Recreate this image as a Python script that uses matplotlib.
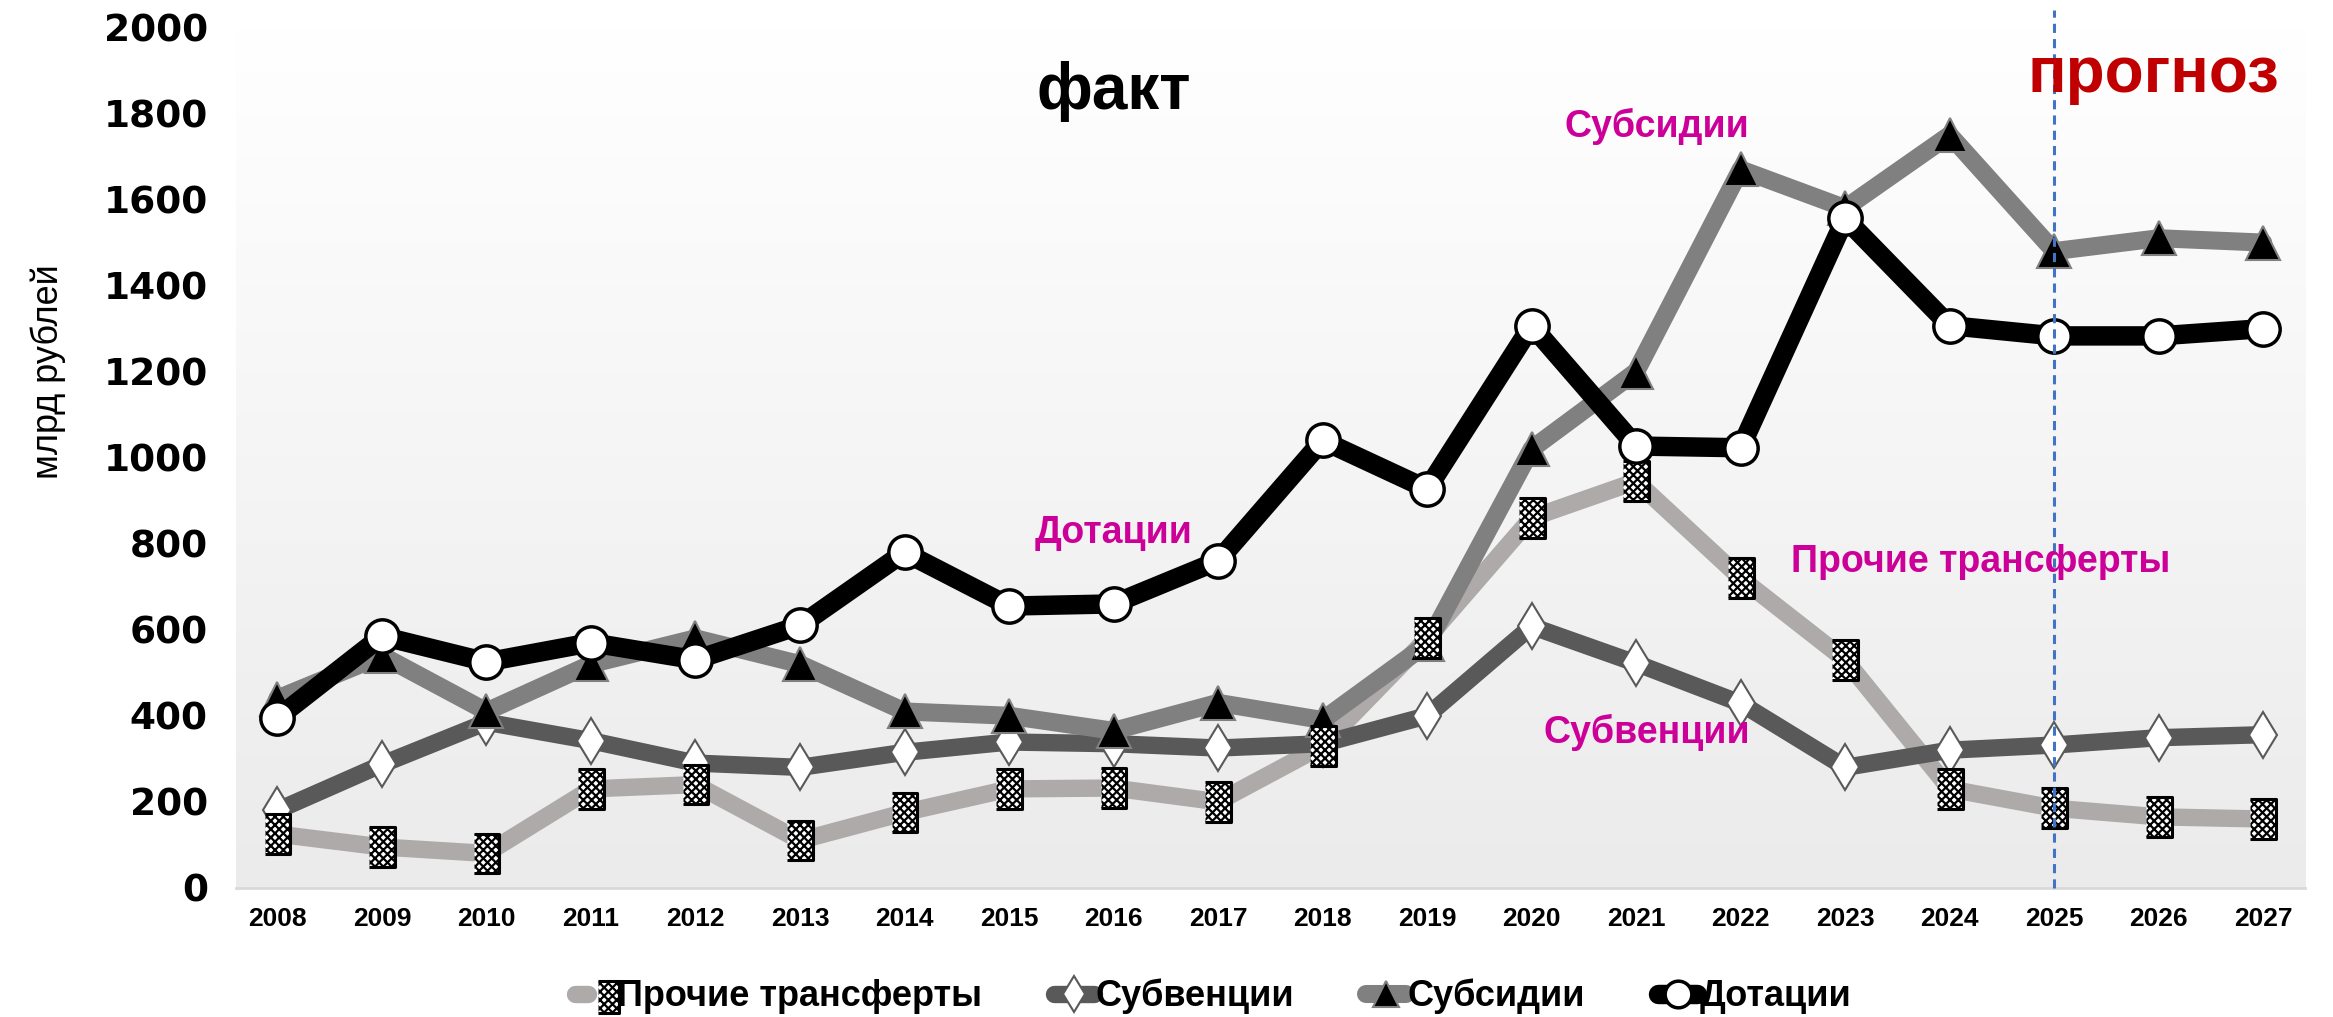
import numpy as np
import matplotlib
matplotlib.use("Agg")
import matplotlib.pyplot as plt
from matplotlib.colors import LinearSegmentedColormap
from matplotlib.legend_handler import HandlerTuple

plt.rcParams["font.family"] = ["Liberation Sans", "DejaVu Sans"]
plt.rcParams["hatch.linewidth"] = 1.6

# data (млрд рублей)
years = list(range(2008, 2028))
dotatsii = [395, 585, 525, 570, 530, 610, 780, 655, 660, 760, 1040, 927, 1307, 1027, 1023,
            1556, 1307, 1283, 1283, 1300]
subsidii = [440, 540, 410, 520, 580, 520, 410, 400, 365, 430, 390, 567, 1020, 1200, 1670,
            1580, 1750, 1480, 1510, 1500]
subventsii = [180, 287, 385, 342, 290, 280, 315, 339, 335, 325, 335, 400, 608, 522, 429,
              280, 320, 332, 349, 356]
prochie = [125, 95, 80, 230, 240, 110, 175, 230, 232, 200, 330, 580, 860, 945, 720,
           530, 230, 185, 165, 160]
yticks = list(range(0, 2001, 200))

magenta = "#CC0099"

fig = plt.figure(figsize=(23.33, 10.17), dpi=100)
ax = fig.add_axes([0.101, 0.127, 0.887, 0.846])

# gradient background
cmap = LinearSegmentedColormap.from_list("bg", ["#ffffff", "#ebebeb"])
grad = np.linspace(0, 1, 256).reshape(-1, 1)
ax.imshow(grad, extent=[0, 1, 0, 1], transform=ax.transAxes, aspect="auto",
          cmap=cmap, zorder=0)

# lines
rect = [(-0.65, -1), (0.65, -1), (0.65, 1), (-0.65, 1)]
l_pr, = ax.plot(years, prochie, color="#AEAAAA", lw=12.5, solid_capstyle="round", zorder=2)
sc_pr = ax.scatter(years, prochie, marker=rect, s=820, facecolor="white",
                   edgecolor="black", hatch="xxxx", linewidths=2.2, zorder=8)
l_sv, = ax.plot(years, subventsii, color="#595959", lw=12.5, marker="d", ms=23, mfc="white",
                mec="#595959", mew=1.5, solid_capstyle="round", zorder=3)
l_ss, = ax.plot(years, subsidii, color="#808080", lw=13, marker="^", ms=24, mfc="black",
                mec="#808080", mew=1.5, solid_capstyle="round", zorder=4)
l_dt, = ax.plot(years, dotatsii, color="black", lw=14, marker="o", ms=24, mfc="white",
                mec="black", mew=2.5, solid_capstyle="round", zorder=9)

ax.axvline(2025, ymin=0, ymax=1.02, color="#4472C4", lw=2.2, ls=(0, (3, 2)),
           clip_on=False, zorder=10)

ax.set_xlim(2007.6, 2027.4)
ax.set_ylim(0, 2000)
ax.set_xticks(years)
ax.set_xticklabels([str(y) for y in years], fontsize=19, fontweight="bold")
ax.set_yticks(yticks)
ax.set_yticklabels([str(v) for v in yticks], fontsize=27, fontweight="bold",
                   family="DejaVu Sans")
ax.tick_params(length=0, pad=14)
ax.tick_params(axis="y", pad=20)
for s in ["top", "right", "left"]:
    ax.spines[s].set_visible(False)
ax.spines["bottom"].set_color("#D9D9D9")
ax.spines["bottom"].set_linewidth(2)

ax.set_ylabel("млрд рублей", fontsize=26)
ax.yaxis.set_label_coords(-0.082, 0.6)

# annotations
kw = dict(color=magenta, fontsize=27, fontweight="bold", ha="center", va="center", zorder=11)
ax.text(2021.2, 1770, "Субсидии", **kw)
ax.text(2016.0, 825, "Дотации", **kw)
ax.text(2024.3, 757, "Прочие трансферты", **kw)
ax.text(2021.1, 362, "Субвенции", **kw)
ax.text(2016.0, 1850, "факт", fontsize=46, fontweight="bold", color="black",
        ha="center", va="center")
ax.text(2025.95, 1890, "прогноз", fontsize=46, fontweight="bold", color="#C00000",
        ha="center", va="center", zorder=11)

leg = fig.legend([(l_pr, sc_pr), l_sv, l_ss, l_dt],
                 ["Прочие трансферты", "Субвенции", "Субсидии", "Дотации"],
                 handler_map={tuple: HandlerTuple(ndivide=None)},
                 loc="center", bbox_to_anchor=(0.52, 0.02), ncol=4, frameon=False,
                 handlelength=1.1, columnspacing=2.0, handletextpad=0.05,
                 markerscale=0.8,
                 prop={"weight": "bold", "size": 26})

fig.savefig("out.png", dpi=100)
